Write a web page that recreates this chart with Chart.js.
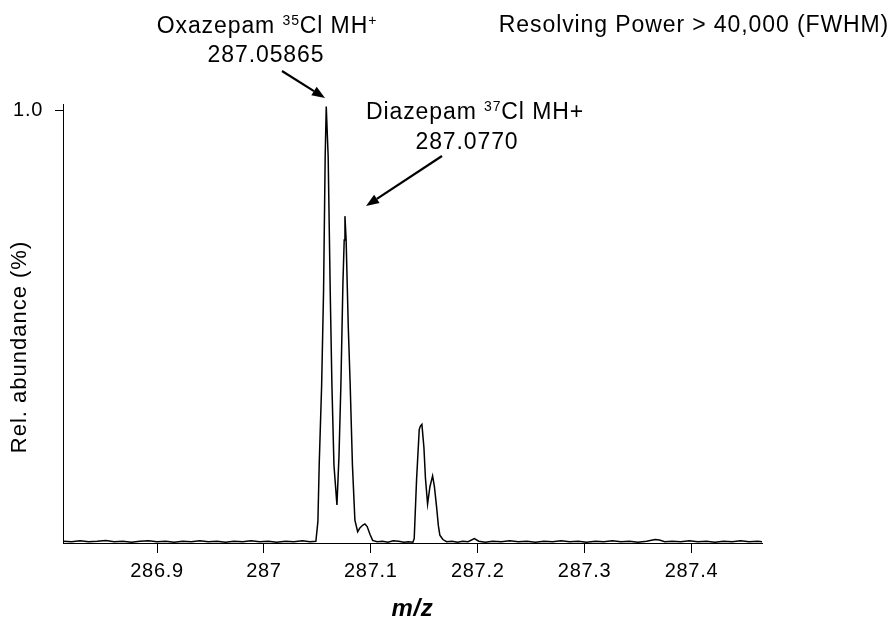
<!DOCTYPE html>
<html>
<head>
<meta charset="utf-8">
<script src="https://cdn.jsdelivr.net/npm/chart.js@4.4.1/dist/chart.umd.min.js"></script>
<style>
  html, body { margin: 0; padding: 0; background: #fff; }
  #wrap { width: 893px; height: 621px; position: relative; }
</style>
</head>
<body>
<div id="wrap"><canvas id="spectrum"></canvas></div>
<script>
// m/z axis values and relative abundance
const mzValues = [
  286.812, 286.820, 286.828, 286.836, 286.844, 286.852, 286.860, 286.868, 286.876, 286.884,
  286.892, 286.900, 286.908, 286.916, 286.924, 286.932, 286.940, 286.948, 286.956, 286.964,
  286.972, 286.980, 286.988, 286.996, 287.004, 287.012, 287.020, 287.028, 287.036, 287.043,
  // oxazepam / diazepam pair
  287.0486, 287.0505, 287.0517, 287.0540, 287.0558, 287.0573, 287.0583, 287.0601, 287.0620, 287.0636,
  287.0655, 287.0683, 287.0702, 287.0720, 287.0739, 287.0751, 287.0758, 287.0769, 287.0779, 287.0789,
  287.0807, 287.0828, 287.0851, 287.0877, 287.0898, 287.0923, 287.0945, 287.0966, 287.0992, 287.1017,
  287.106, 287.111, 287.116, 287.121, 287.126, 287.131, 287.135,
  // small doublet
  287.1394, 287.1406, 287.1428, 287.1453, 287.1464, 287.1478, 287.1497, 287.1511, 287.1531, 287.1553,
  287.1578, 287.1595, 287.1615, 287.1632, 287.1646, 287.1674, 287.1709,
  287.176, 287.181, 287.186, 287.191, 287.1969, 287.201, 287.207, 287.214, 287.222, 287.230,
  287.238, 287.246, 287.254, 287.262, 287.270, 287.278, 287.286, 287.294, 287.302, 287.310,
  287.318, 287.326, 287.334, 287.342, 287.350, 287.358, 287.366, 287.370, 287.375, 287.382,
  287.390, 287.398, 287.406, 287.414, 287.422, 287.430, 287.438, 287.446, 287.454, 287.462, 287.466
];
const relAbundance = [
  0.004, 0.003, 0.005, 0.003, 0.004, 0.006, 0.003, 0.004, 0.002, 0.004,
  0.005, 0.003, 0.004, 0.002, 0.004, 0.003, 0.005, 0.003, 0.004, 0.002,
  0.004, 0.003, 0.005, 0.003, 0.004, 0.002, 0.004, 0.003, 0.005, 0.003,
  0.004, 0.050, 0.180, 0.365, 0.584, 0.892, 1.008, 0.892, 0.584, 0.365,
  0.180, 0.088, 0.200, 0.365, 0.600, 0.700, 0.755, 0.700, 0.600, 0.500,
  0.365, 0.180, 0.053, 0.026, 0.035, 0.041, 0.044, 0.038, 0.020, 0.006,
  0.003, 0.004, 0.002, 0.005, 0.004, 0.002, 0.003,
  0.002, 0.010, 0.146, 0.262, 0.270, 0.274, 0.220, 0.150, 0.090, 0.130,
  0.155, 0.130, 0.084, 0.040, 0.018, 0.008, 0.003,
  0.004, 0.002, 0.004, 0.003, 0.010, 0.004, 0.002, 0.004, 0.003, 0.005,
  0.003, 0.004, 0.002, 0.004, 0.003, 0.005, 0.003, 0.004, 0.002, 0.004,
  0.003, 0.005, 0.003, 0.004, 0.002, 0.004, 0.008, 0.007, 0.003, 0.004,
  0.003, 0.005, 0.003, 0.004, 0.002, 0.004, 0.003, 0.005, 0.003, 0.004, 0.003
];
const xTicks = [286.9, 287.0, 287.1, 287.2, 287.3, 287.4];
const xTickLabels = ["286.9", "287", "287.1", "287.2", "287.3", "287.4"];
const yTicks = [1.0];
const yTickLabels = ["1.0"];
const xRange = [286.812, 287.466];
const yRange = [0, 1.014];
const yTitle = "Rel. abundance (%)";

const FONT = "'Liberation Sans', Arial, sans-serif";

// text with superscripts, centred on x
function richText(ctx, parts, cx, y, size, spacing) {
  const sup = Math.round(size * 0.62);
  ctx.letterSpacing = spacing + "px";
  let w = 0;
  parts.forEach(p => {
    ctx.font = (p.sup ? sup : size) + "px " + FONT;
    w += ctx.measureText(p.t).width;
  });
  let x = cx - w / 2;
  ctx.textAlign = "left";
  ctx.textBaseline = "alphabetic";
  parts.forEach(p => {
    ctx.font = (p.sup ? sup : size) + "px " + FONT;
    ctx.fillText(p.t, x, p.sup ? y - size * 0.33 : y);
    x += ctx.measureText(p.t).width;
  });
}

function arrow(ctx, x1, y1, x2, y2) {
  const a = Math.atan2(y2 - y1, x2 - x1), L = 13, W = 5;
  const bx = x2 - L * Math.cos(a), by = y2 - L * Math.sin(a);
  ctx.beginPath();
  ctx.moveTo(x1, y1); ctx.lineTo(bx, by);
  ctx.lineWidth = 2.2; ctx.strokeStyle = "#000"; ctx.stroke();
  ctx.beginPath();
  ctx.moveTo(x2, y2);
  ctx.lineTo(bx + W * Math.sin(a), by - W * Math.cos(a));
  ctx.lineTo(bx - W * Math.sin(a), by + W * Math.cos(a));
  ctx.closePath(); ctx.fillStyle = "#000"; ctx.fill();
}

const annotations = {
  id: "annotations",
  beforeDraw(chart) { chart.ctx.letterSpacing = "0.7px"; },
  afterDraw(chart) {
    const ctx = chart.ctx;
    ctx.save();
    ctx.fillStyle = "#000";
    richText(ctx, [{t:"Oxazepam "}, {t:"35", sup:true}, {t:"Cl MH"}, {t:"+", sup:true}], 267, 33, 23, 0.9);
    richText(ctx, [{t:"287.05865"}], 266, 62, 23, 0.9);
    richText(ctx, [{t:"Diazepam "}, {t:"37", sup:true}, {t:"Cl MH+"}], 475, 118.5, 23, 0.9);
    richText(ctx, [{t:"287.0770"}], 467, 148.5, 23, 0.9);
    richText(ctx, [{t:"Resolving Power > 40,000 (FWHM)"}], 694, 32, 23, 0.9);
    arrow(ctx, 282, 71, 325, 98);
    arrow(ctx, 442, 156, 366, 206);

    // y axis title, rotated
    ctx.translate(20, 347);
    ctx.rotate(-Math.PI / 2);
    ctx.font = "22px " + FONT;
    ctx.letterSpacing = "1px";
    ctx.textAlign = "center";
    ctx.textBaseline = "middle";
    ctx.fillText(yTitle, 0, 0);
    ctx.restore();
  }
};

new Chart(document.getElementById("spectrum"), {
  type: "line",
  data: {
    datasets: [{
      data: mzValues.map((x, i) => ({ x, y: relAbundance[i] })),
      borderColor: "#000",
      borderWidth: 1.5,
      pointRadius: 0,
      tension: 0,
      fill: false
    }]
  },
  options: {
    responsive: true,
    maintainAspectRatio: false,
    animation: false,
    layout: { padding: { top: 104, right: 131, left: 0, bottom: 0 } },
    plugins: { legend: { display: false }, tooltip: { enabled: false } },
    scales: {
      x: {
        type: "linear",
        min: xRange[0], max: xRange[1],
        afterFit: s => { s.height = 78; },
        afterBuildTicks: s => { s.ticks = xTicks.map(v => ({ value: v })); },
        grid: { drawOnChartArea: false, tickLength: 10, color: "#000", tickWidth: 1 },
        border: { display: true, color: "#000", width: 1 },
        ticks: {
          color: "#000", padding: 6, maxRotation: 0, autoSkip: false,
          font: { family: FONT, size: 20 },
          callback: (v, i) => xTickLabels[i]
        },
        title: {
          display: true, text: "m/z", color: "#000",
          font: { family: FONT, size: 24, weight: "bold", style: "italic", lineHeight: 1 },
          padding: { top: 0, bottom: 0 }
        }
      },
      y: {
        min: yRange[0], max: yRange[1],
        afterFit: s => { s.width = 63; },
        afterBuildTicks: s => { s.ticks = yTicks.map(v => ({ value: v })); },
        grid: { drawOnChartArea: false, tickLength: 8, color: "#000", tickWidth: 1 },
        border: { display: true, color: "#000", width: 1 },
        ticks: {
          color: "#000", padding: 12,
          font: { family: FONT, size: 20 },
          callback: (v, i) => yTickLabels[i]
        }
      }
    }
  },
  plugins: [annotations]
});
</script>
</body>
</html>
